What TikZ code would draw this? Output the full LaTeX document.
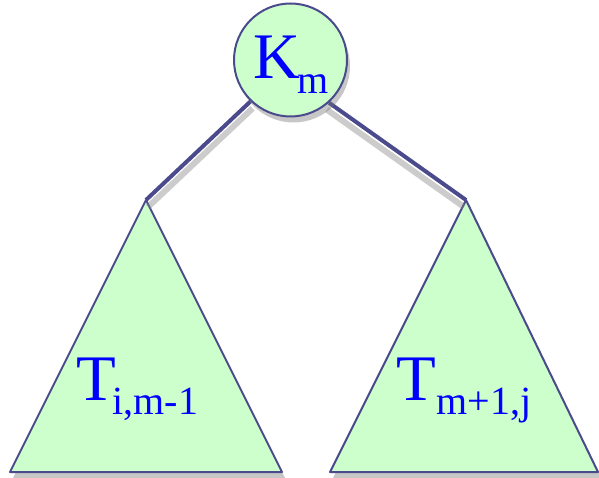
\documentclass[tikz,border=0pt]{standalone}
\usepackage{fontspec}
\setmainfont{Liberation Serif}
\usetikzlibrary{shadows}
\definecolor{edgeblue}{RGB}{74,74,140}
\definecolor{nodefill}{RGB}{204,255,204}
\definecolor{txtblue}{RGB}{0,0,255}
\tikzset{
  shad/.style={drop shadow={shadow xshift=3pt,shadow yshift=-6pt,opacity=0.4,fill=black!55}},
  keynode/.style={circle,draw=edgeblue,line width=2pt,fill=nodefill,minimum size=113pt,inner sep=0pt},
  tri/.style={draw=edgeblue,line width=2pt,fill=nodefill,line join=round},
  edgeline/.style={draw=edgeblue,line width=4pt},
  edgeshadow/.style={draw=black!50,line width=6pt,opacity=0.4},
  big/.style={inner sep=0pt,anchor=base west,text=txtblue,font=\fontsize{65}{65}\selectfont},
  small/.style={inner sep=0pt,anchor=base west,text=txtblue,font=\fontsize{40}{40}\selectfont}
}
\begin{document}
\begin{tikzpicture}[x=1pt,y=-1pt]
\useasboundingbox (0,0) rectangle (599,478);
\coordinate (la) at (146,200);
\coordinate (ra) at (466,200);
\coordinate (lbl) at (10,472);
\coordinate (lbr) at (282,472);
\coordinate (rbl) at (330,472);
\coordinate (rbr) at (598,472);
% triangles
\path[tri,shad] (la) -- (lbr) -- (lbl) -- cycle;
\path[tri,shad] (ra) -- (rbr) -- (rbl) -- cycle;
% key node placeholder for anchors
\node[keynode,draw=none,fill=none] (K) at (290.5,60) {};
% edges with shadows
\draw[edgeshadow] ([shift={(2,7)}]K.-134) -- ([shift={(2,7)}]la);
\draw[edgeshadow] ([shift={(-2,7)}]K.-48) -- ([shift={(-2,7)}]ra);
\draw[edgeline] (K.-134) -- (la);
\draw[edgeline] (K.-48) -- (ra);
\node[keynode,shad] (K2) at (290.5,60) {};
% labels
\node[big] (Kt) at (253,79) {K};
\node[small] (Ks) at (297.5,94) {m};
\node[big] (T1) at (76,400) {T};
\node[small] (T1s) at (112.5,414) {i,m-1};
\node[big] (T2) at (396,400) {T};
\node[small] (T2s) at (436.5,414) {m+1,j};
\end{tikzpicture}
\end{document}
